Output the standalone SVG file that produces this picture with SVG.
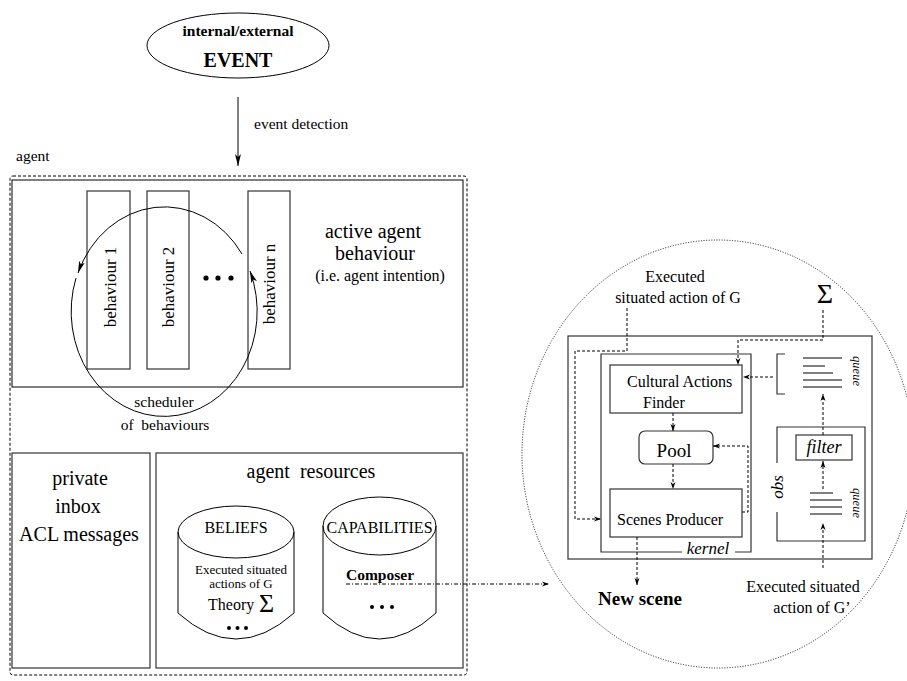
<svg xmlns="http://www.w3.org/2000/svg" width="907" height="681" viewBox="0 0 907 681">
<style>
.s{fill:none;stroke:#000;stroke-width:1}
.g{fill:none;stroke:#333;stroke-width:1.2}
.d{fill:none;stroke:#000;stroke-width:1;stroke-dasharray:3 2}
.dd{fill:none;stroke:#000;stroke-width:0.9;stroke-dasharray:1 1.6}
.dc{fill:none;stroke:#000;stroke-width:1;stroke-dasharray:4 2 1 2}
.w{fill:#fff;stroke:#000;stroke-width:1}
text{font-family:"Liberation Serif","Times New Roman",serif;fill:#000}
.m{text-anchor:middle}
.b{font-weight:bold}
.i{font-style:italic}
</style>
<defs>
<marker id="ah" markerWidth="12" markerHeight="8" refX="12" refY="4" orient="auto" markerUnits="userSpaceOnUse">
<path d="M0,1 L12,4 L0,7 L3,4 Z" fill="#000"/>
</marker>
<marker id="sh" markerWidth="7" markerHeight="6" refX="7" refY="3" orient="auto" markerUnits="userSpaceOnUse">
<path d="M0,0.5 L7,3 L0,5.5 L2,3 Z" fill="#000"/>
</marker>
</defs>

<g id="event">
<ellipse class="s" cx="238" cy="45.5" rx="91" ry="32.5"/>
<text class="m b" x="238" y="36" font-size="15.5">internal/external</text>
<text class="m b" x="238" y="67" font-size="20">EVENT</text>
</g>

<g id="agent">
<rect x="10" y="176" width="457" height="499" rx="3" class="d"/>
<text x="16" y="161" font-size="15.5">agent</text>
</g>

<g id="active-behaviour">
<rect x="12" y="180" width="451" height="207" class="s"/>
<text class="m" x="373" y="238" font-size="20">active agent</text>
<text class="m" x="375" y="260" font-size="20">behaviour</text>
<text class="m" x="380" y="281" font-size="16">(i.e. agent intention)</text>
</g>

<g id="behaviour-1">
<rect x="87" y="191" width="43" height="178" class="g"/>
<text class="m" transform="translate(116,287) rotate(-90)" font-size="17">behaviour 1</text>
</g>
<g id="behaviour-2">
<rect x="147" y="191" width="42" height="178" class="g"/>
<text class="m" transform="translate(174,287) rotate(-90)" font-size="17">behaviour 2</text>
</g>
<g id="behaviour-dots">
<circle cx="206" cy="278" r="2.6"/>
<circle cx="218" cy="278" r="2.6"/>
<circle cx="231" cy="278" r="2.6"/>
</g>
<g id="behaviour-n">
<rect x="248" y="191" width="42" height="178" class="g"/>
<text class="m" transform="translate(275,284) rotate(-90)" font-size="17">behaviour n</text>
</g>

<g id="scheduler">
<text class="m" x="164" y="407" font-size="15.5">scheduler</text>
<text class="m" x="165" y="430" font-size="15.5" xml:space="preserve">of  behaviours</text>
</g>

<g id="private-inbox">
<rect x="12" y="453" width="138" height="215" class="g"/>
<text class="m" x="80" y="485" font-size="20">private</text>
<text class="m" x="78" y="513" font-size="20">inbox</text>
<text class="m" x="79" y="541" font-size="20">ACL messages</text>
</g>

<g id="agent-resources">
<rect x="156" y="453" width="307" height="215" class="g"/>
<text class="m" x="311" y="478" font-size="20" xml:space="preserve">agent  resources</text>
</g>

<g id="beliefs">
<path class="s" d="M178,532 V613 Q236,665 294,613 V532"/>
<ellipse class="s" cx="236" cy="532" rx="58" ry="26"/>
<text class="m" x="236" y="533" font-size="16">BELIEFS</text>
<text class="m" x="241" y="574" font-size="13">Executed situated</text>
<text class="m" x="241" y="588" font-size="13">actions of G</text>
<text x="208" y="610" font-size="16">Theory</text>
<text x="259" y="612" font-size="26">Σ</text>
<circle cx="229" cy="628" r="2"/>
<circle cx="237.5" cy="628" r="2"/>
<circle cx="246" cy="628" r="2"/>
</g>

<g id="capabilities">
<path class="s" d="M323,526 V613 Q379.5,665 436,613 V526"/>
<ellipse class="s" cx="379.5" cy="526" rx="56.5" ry="29"/>
<text class="m" x="379.5" y="533" font-size="16">CAPABILITIES</text>
<text class="b" x="346" y="580" font-size="15.5">Composer</text>
<circle cx="372" cy="607" r="2"/>
<circle cx="382" cy="607" r="2"/>
<circle cx="392" cy="607" r="2"/>
</g>

<g id="composer-zoom">
<ellipse class="dd" cx="718" cy="454" rx="196" ry="214"/>
</g>

<g id="outer-frame">
<rect x="568" y="336" width="304" height="223" class="g"/>
</g>

<g id="kernel">
<path class="g" d="M682,552 H601 V354 H751 V552 H735"/>
<text class="m i" x="708" y="554" font-size="17">kernel</text>
</g>

<g id="cultural-actions-finder">
<rect x="610" y="365" width="132" height="48" class="g"/>
<text x="627" y="387" font-size="16">Cultural Actions</text>
<text x="643" y="408" font-size="16">Finder</text>
</g>

<g id="pool">
<rect x="639" y="431" width="74" height="33" rx="6" class="g"/>
<text class="m" x="674" y="457" font-size="19">Pool</text>
</g>

<g id="scenes-producer">
<rect x="610" y="489" width="132" height="48" class="g"/>
<text x="617" y="525" font-size="16">Scenes Producer</text>
</g>

<g id="queue-top">
<path class="g" d="M785,354 H777 V394 H785"/>
<path class="s" d="M803,358 H842 M803,366 H825 M803,373 H833 M803,380 H842 M803,387 H842"/>
<text class="m i" transform="translate(853,371) rotate(90)" font-size="12.5">queue</text>
</g>

<g id="obs">
<path class="g" d="M777,463 V427 H865 V541 H777 V512"/>
<text class="m i" transform="translate(783,487) rotate(-90)" font-size="17">obs</text>
</g>

<g id="filter">
<rect x="796" y="435" width="56" height="25" class="g"/>
<text class="m i" x="824" y="453" font-size="18">filter</text>
</g>

<g id="queue-bottom">
<path class="s" d="M810,493 H833 M810,500 H842 M810,507 H842 M810,514 H842"/>
<text class="m i" transform="translate(853,503) rotate(90)" font-size="12.5">queue</text>
</g>

<g id="labels-right">
<text class="m" x="675" y="282" font-size="16">Executed</text>
<text class="m" x="678" y="303" font-size="16">situated action of G</text>
<text class="m" x="825" y="303" font-size="28">Σ</text>
<text class="m b" x="640" y="605" font-size="19">New scene</text>
<text class="m" x="803" y="592" font-size="16">Executed situated</text>
<text class="m" x="812" y="613" font-size="16">action of G’</text>
</g>

<g id="connectors">
<line class="s" x1="238" y1="97" x2="238" y2="166" marker-end="url(#ah)"/>
<text x="254" y="129" font-size="15.5">event detection</text>
<path class="s" d="M242,254 A93,105 0 0 0 78,273" marker-end="url(#ah)"/>
<path class="s" d="M76,278 A93,105 0 1 0 250,271" marker-end="url(#ah)"/>
<path class="dc" d="M346,584 H549" marker-end="url(#sh)"/>
<path class="d" d="M627,308 V351 H575 V519 H601" marker-end="url(#sh)"/>
<path class="d" d="M823,310 V340 H738 V365" marker-end="url(#sh)"/>
<path class="d" d="M773,377 H743" marker-end="url(#sh)"/>
<path class="d" d="M673,413 V431" marker-end="url(#sh)"/>
<path class="d" d="M673,464 V489" marker-end="url(#sh)"/>
<path class="d" d="M742,512 H748 V446 H713" marker-end="url(#sh)"/>
<path class="d" d="M637,537 V585" marker-end="url(#sh)"/>
<path class="d" d="M823,568 V523" marker-end="url(#sh)"/>
<path class="d" d="M823,489 V461" marker-end="url(#sh)"/>
<path class="d" d="M823,435 V394" marker-end="url(#sh)"/>
</g>
</svg>
